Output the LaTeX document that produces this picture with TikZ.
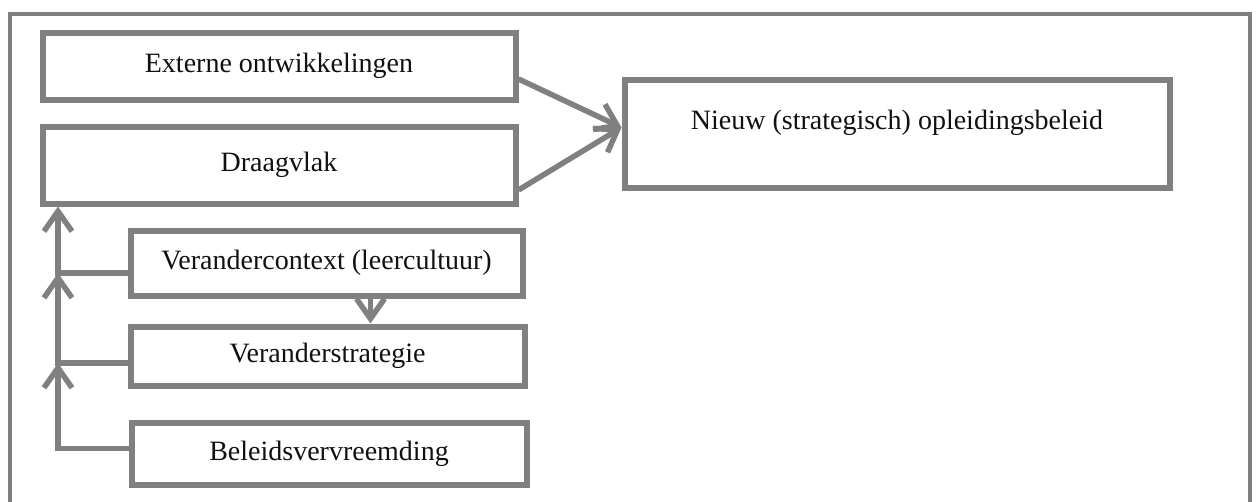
\documentclass[tikz,border=0pt]{standalone}
\usepackage{fontspec}
\setmainfont{Liberation Serif}
\usetikzlibrary{arrows.meta,calc,positioning}
\definecolor{ink}{HTML}{111111}
\definecolor{frame}{HTML}{808080}
\definecolor{paper}{HTML}{FFFFFF}
\tikzset{
  font=\fontsize{28}{34}\selectfont,
  block/.style={
    rectangle,
    draw=frame,
    line width=6pt,
    fill=paper,
    text=ink,
    align=center,
    inner sep=0pt
  },
  flow/.style={
    -{Straight Barb[length=20pt,width=28pt]},
    draw=frame,
    line width=5.5pt
  },
  outerbox/.style={
    draw=frame,
    line width=4pt
  }
}
\begin{document}
\begin{tikzpicture}[x=1pt,y=-1pt]

  \useasboundingbox[fill=paper] (0,0) rectangle (1258,501);

  % ============================================================
  % Outer frame (bottom edge falls below the page)
  % ============================================================
  \draw[outerbox] (10,505) |- (1250,14) -- (1250,505);

  % ============================================================
  % Left column -- inputs
  % ============================================================
  \node[block, minimum width=473pt, minimum height=67pt] (ext_box)
       at (279,66) {Externe ontwikkelingen};
  \node[block, minimum width=473pt, minimum height=77pt] (drg_box)
       at (279,165) {Draagvlak};

  % Right -- result; text sits in the upper part of the box
  \node[block, minimum width=545pt, minimum height=108pt,
        text height=20pt, text depth=29pt] (nw_box)
       at (897,133.5) {Nieuw (strategisch) opleidingsbeleid};

  % ============================================================
  % Lower stack -- what feeds the Draagvlak
  % ============================================================
  \node[block, minimum width=392pt, minimum height=65pt] (ctx_box)
       at (326.5,263) {Verandercontext (leercultuur)};
  \node[block, minimum width=394pt, minimum height=59pt] (str_box)
       at (327.5,356) {Veranderstrategie};
  \node[block, minimum width=395pt, minimum height=62pt] (blv_box)
       at (329,453.5) {Beleidsvervreemding};

  % spine on the left that collects the three branches
  \coordinate (spine) at (58,0);

  % ============================================================
  % Connectors
  % ============================================================
  \draw[flow] ([yshift=-13pt]ext_box.east) -- ([yshift=6pt]nw_box.west);
  \draw[flow] ([yshift=-25pt]drg_box.east) -- ([yshift=6pt]nw_box.west);

  \draw[flow] ([yshift=5pt]blv_box.west)
       -| ([yshift=-7pt]str_box.west -| spine);
  \draw[flow] ([yshift=-7pt]str_box.west)
       -| ([yshift=-10pt]ctx_box.west -| spine);
  \draw[flow] ([yshift=-10pt]ctx_box.west) -| (drg_box.south -| spine);

  \draw[flow] ([xshift=44pt]ctx_box.south)
       -- ([xshift=44pt]ctx_box.south |- str_box.north);

\end{tikzpicture}
\end{document}
